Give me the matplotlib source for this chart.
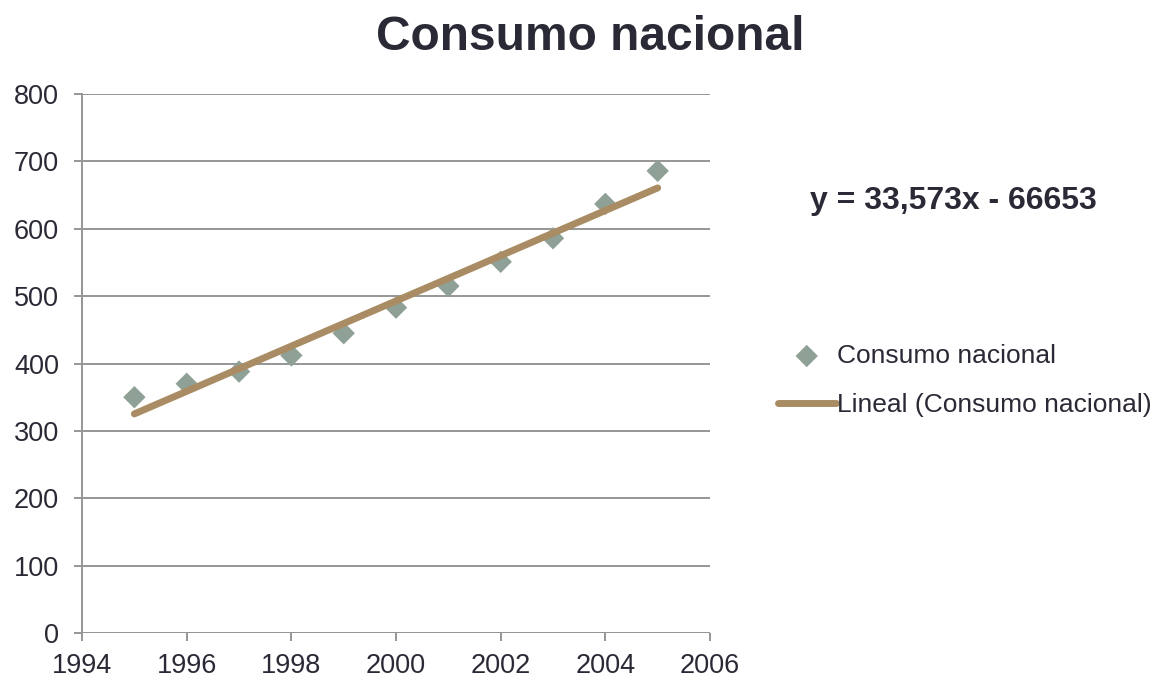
import numpy as np
import matplotlib.pyplot as plt

plt.rcParams['font.family'] = ['Liberation Sans', 'DejaVu Sans']

# datos
years = [1995, 1996, 1997, 1998, 1999, 2000, 2001, 2002, 2003, 2004, 2005]
consumo = [350, 370, 388, 412, 445, 483, 515, 551, 586, 637, 686]
equation = "y = 33,573x - 66653"

text_color = '#2a2a36'
grid_color = '#969696'
marker_color = '#8fa096'
trend_color = '#a98c63'

fig = plt.figure(figsize=(11.59, 6.77), dpi=100)
ax = fig.add_axes([0.0708, 0.065, 0.5418, 0.796])

# puntos
ax.scatter(years, consumo, marker='D', s=130, color=marker_color,
           edgecolors='none', zorder=3, label='Consumo nacional')

# línea de tendencia (ajuste lineal)
coef = np.polyfit(years, consumo, 1)
x_tr = np.array([years[0], years[-1]])
ax.plot(x_tr, np.polyval(coef, x_tr), color=trend_color, lw=5,
        solid_capstyle='round', zorder=4, label='Lineal (Consumo nacional)')

ax.set_xlim(1994, 2006)
ax.set_ylim(0, 800)
ax.set_xticks(range(1994, 2007, 2))
ax.set_yticks(range(0, 801, 100))
ax.grid(axis='y', color=grid_color, lw=1.4)
ax.set_axisbelow(True)

for s in ['top', 'right']:
    ax.spines[s].set_visible(False)
ax.spines['bottom'].set_visible(False)
ax.spines['left'].set_color(grid_color)
ax.spines['left'].set_linewidth(1.4)
ax.axhline(0, color=grid_color, lw=1.4, zorder=1)
ax.tick_params(axis='both', colors=grid_color, width=1.4, length=5.5,
               labelsize=19.5, labelcolor=text_color)
ax.tick_params(axis='y', pad=11)
ax.tick_params(axis='x', pad=9)

fig.text(0.509, 0.945, 'Consumo nacional', ha='center', va='center',
         fontsize=34.5, fontweight='bold', color=text_color)
fig.text(0.699, 0.703, equation, ha='left', va='center',
         fontsize=23, fontweight='bold', color=text_color)

leg = ax.legend(loc='center left', bbox_to_anchor=(0.671, 0.438),
                bbox_transform=fig.transFigure, frameon=False,
                fontsize=19, handlelength=2.2, handletextpad=0.05,
                labelspacing=0.95, borderaxespad=0, borderpad=0)
for t in leg.get_texts():
    t.set_color(text_color)
leg.legend_handles[1].set_linewidth(5)

fig.savefig('out.png', dpi=100)
